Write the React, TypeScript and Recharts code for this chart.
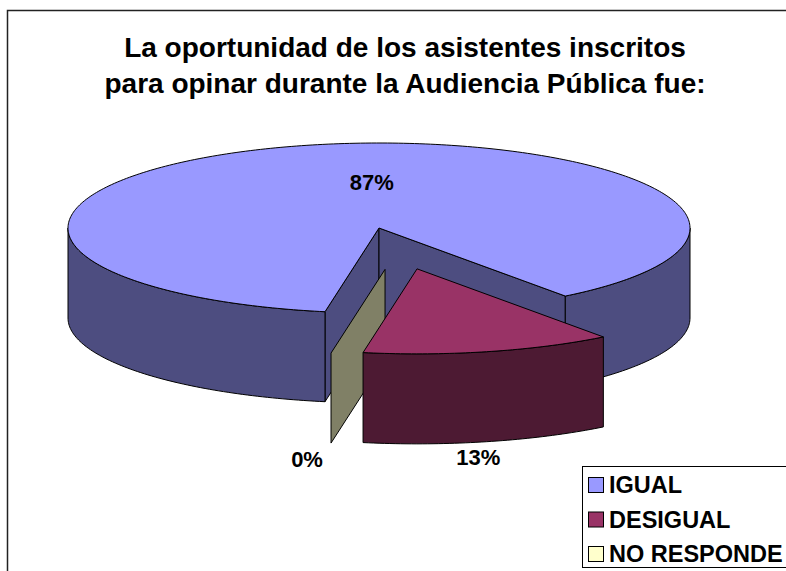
import React from 'react';
import { PieChart, Pie } from 'recharts';

const categories = ['IGUAL', 'DESIGUAL', 'NO RESPONDE'];
const values = [87, 13, 0];
const colors = ['#9999FF', '#993366', '#FFFFCC'];
const titleLines = [
  'La oportunidad de los asistentes inscritos',
  'para opinar durante la Audiencia Pública fue:',
];

// slices pulled out of the pie, and the one painted over the rest
const exploded = ['DESIGUAL', 'NO RESPONDE'];
const frontLayer = ['DESIGUAL'];

const data = categories.map((name, i) => ({ name, value: values[i], fill: colors[i] }));

const W = 786;
const H = 571;
const CX = 379;
const CY = 228;
const R = 311;
const TILT = 85 / 311;
const DEPTH = 90;
const EXPLODE = { x: 79, bias: 0.25, y: 42 };
const FONT = '"Liberation Sans", Arial, Helvetica, sans-serif';

const rad = (d: number) => (d * Math.PI) / 180;

function darken(hex: string, f = 0.5) {
  const n = parseInt(hex.slice(1), 16);
  const r = Math.round(((n >> 16) & 255) * f);
  const g = Math.round(((n >> 8) & 255) * f);
  const b = Math.round((n & 255) * f);
  return `rgb(${r},${g},${b})`;
}

// origin of a slice after explosion
function origin(cx: number, cy: number, midAngle: number, name: string) {
  if (!exploded.includes(name)) return [cx, cy];
  const m = rad(-midAngle);
  return [cx + EXPLODE.x * (Math.cos(m) + EXPLODE.bias), cy + EXPLODE.y * Math.sin(m)];
}

function arc(ox: number, oy: number, r: number, from: number, to: number, z: number) {
  const steps = Math.max(1, Math.ceil(Math.abs(to - from)));
  const pts: string[] = [];
  for (let i = 0; i <= steps; i++) {
    const t = rad(from + ((to - from) * i) / steps);
    pts.push(`${(ox + r * Math.cos(t)).toFixed(2)},${(oy + r * TILT * Math.sin(t) + z).toFixed(2)}`);
  }
  return pts;
}

function renderSlice(layer: 'back' | 'front') {
  return (props: any) => {
    const name = props.name ?? props.payload?.name;
    const inFront = frontLayer.includes(name);
    if ((layer === 'front') !== inFront) return <g />;
    const { cx, cy, outerRadius, startAngle, endAngle, midAngle, fill } = props;
    const r = outerRadius;
    const a = -startAngle;
    const b = -endAngle;
    const lo = Math.min(a, b);
    const hi = Math.max(a, b);
    const [ox, oy] = origin(cx, cy, midAngle, name);
    const side = darken(fill);
    const edge = { stroke: '#000', strokeWidth: 1, strokeLinejoin: 'round' as const };

    const radial = (t: number) => {
      const x = ox + r * Math.cos(rad(t));
      const y = oy + r * TILT * Math.sin(rad(t));
      return `M${ox},${oy} L${x},${y} L${x},${y + DEPTH} L${ox},${oy + DEPTH} Z`;
    };
    const faces: string[] = [];
    if (Math.cos(rad(lo)) < 0) faces.push(radial(lo));
    if (hi - lo > 0.01 && Math.cos(rad(hi)) > 0) faces.push(radial(hi));

    const sides: string[] = [];
    for (let n = Math.floor(lo / 360) - 1; n <= Math.ceil(hi / 360) + 1; n++) {
      const s = Math.max(lo, n * 360);
      const e = Math.min(hi, n * 360 + 180);
      if (e - s > 0.01) {
        const top = arc(ox, oy, r, s, e, 0);
        const bottom = arc(ox, oy, r, e, s, DEPTH);
        sides.push(`M${top.join(' L')} L${bottom.join(' L')} Z`);
      }
    }

    const top = hi - lo > 0.01 ? `M${ox},${oy} L${arc(ox, oy, r, lo, hi, 0).join(' L')} Z` : null;

    return (
      <g>
        {faces.map((d, i) => (
          <path key={`f${i}`} d={d} fill={side} {...edge} />
        ))}
        {sides.map((d, i) => (
          <path key={`s${i}`} d={d} fill={side} {...edge} />
        ))}
        {top && <path d={top} fill={fill} {...edge} />}
      </g>
    );
  };
}

function renderLabel(layer: 'back' | 'front') {
  return (props: any) => {
    const name = props.name ?? props.payload?.name;
    if ((layer === 'front') !== frontLayer.includes(name)) return null;
    const { cx, cy, outerRadius, midAngle, percent } = props;
    const [ox, oy] = origin(cx, cy, midAngle, name);
    const m = rad(-midAngle);
    const c = Math.cos(m);
    const s = Math.sin(m);
    const front = s > 0;
    const reach = front ? (c < 0 ? 1.15 : 0.85) : 0.1;
    const x = ox + outerRadius * c * reach;
    const y = front ? oy + outerRadius * TILT * s + DEPTH + 16 : oy + outerRadius * TILT * s * 0.55;
    return (
      <text
        x={x}
        y={y}
        textAnchor={front && c < 0 ? 'end' : 'middle'}
        dominantBaseline="central"
        fontFamily={FONT}
        fontWeight="bold"
        fontSize={22}
        fill="#000"
      >
        {`${Math.round(percent * 100)}%`}
      </text>
    );
  };
}

export default function App() {
  return (
    <div style={{ position: 'absolute', left: 0, top: 0, width: W, height: H, background: '#fff', overflow: 'hidden' }}>
      <PieChart
        width={W}
        height={H}
        margin={{ top: 0, right: 0, bottom: 0, left: 0 }}
        style={{ position: 'absolute', left: 0, top: 0 }}
      >
        <Pie
          data={data}
          dataKey="value"
          nameKey="name"
          cx={CX}
          cy={CY}
          outerRadius={R}
          startAngle={-100}
          endAngle={-460}
          stroke="none"
          shape={renderSlice('back')}
          label={renderLabel('back')}
          labelLine={false}
          isAnimationActive={false}
        />
        <Pie
          data={data}
          dataKey="value"
          nameKey="name"
          cx={CX}
          cy={CY}
          outerRadius={R}
          startAngle={-100}
          endAngle={-460}
          stroke="none"
          shape={renderSlice('front')}
          label={renderLabel('front')}
          labelLine={false}
          isAnimationActive={false}
        />
      </PieChart>
      <svg width={W} height={H} style={{ position: 'absolute', left: 0, top: 0, pointerEvents: 'none' }}>
        <rect x={7.5} y={10.5} width={W + 20} height={H + 20} fill="none" stroke="#222" strokeWidth={1.5} />
        {titleLines.map((line, i) => (
          <text
            key={line}
            x={405}
            y={57 + i * 36}
            textAnchor="middle"
            fontFamily={FONT}
            fontWeight="bold"
            fontSize={28}
            fill="#000"
          >
            {line}
          </text>
        ))}
        <rect x={582.5} y={466.5} width={230} height={101} fill="#fff" stroke="#000" strokeWidth={1} />
        {categories.map((name, i) => (
          <g key={name}>
            <rect x={588.5} y={477.5 + i * 34.5} width={15} height={15} fill={colors[i]} stroke="#000" strokeWidth={1} />
            <text x={609} y={493 + i * 34.5} fontFamily={FONT} fontWeight="bold" fontSize={23.5} fill="#000">
              {name}
            </text>
          </g>
        ))}
      </svg>
    </div>
  );
}
